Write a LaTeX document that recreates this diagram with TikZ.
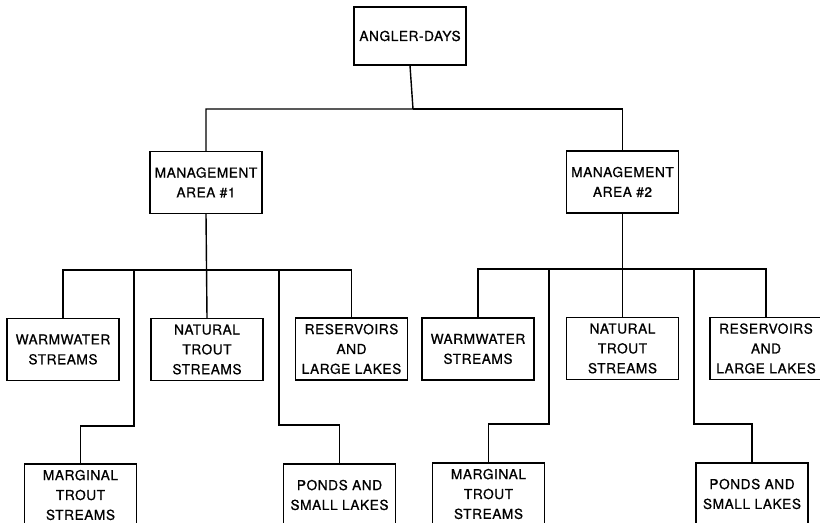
\documentclass[tikz,border=0pt]{standalone}
\usepackage{fontspec}
\setmainfont{TeX Gyre Heros}[LetterSpace=4,FakeBold=0.8]
\usepackage{tikz}

\begin{document}
\begin{tikzpicture}[line width=0.8pt,
    box/.style={draw,line width=0.7pt,align=center,inner sep=0pt,
        minimum width=2.24cm,minimum height=1.24cm,
        font=\fontsize{7.8}{11.3}\selectfont}]
    \useasboundingbox (0,0) rectangle (16.4,-10.46);
    \node[box,minimum height=1.16cm] (days) at (8.2,-0.72) {ANGLER-DAYS};
    \node[box] (ma1) at (4.12,-3.65) {MANAGEMENT\\AREA \#1};
    \node[box] (ma2) at (12.45,-3.64) {MANAGEMENT\\AREA \#2};
    \node[box] (ww1) at (1.26,-6.99) {WARMWATER\\STREAMS};
    \node[box] (nt1) at (4.14,-6.99) {NATURAL\\TROUT\\STREAMS};
    \node[box] (rl1) at (7.03,-6.98) {RESERVOIRS\\AND\\LARGE LAKES};
    \node[box] (mt1) at (1.61,-9.9) {MARGINAL\\TROUT\\STREAMS};
    \node[box] (pl1) at (6.79,-9.9) {PONDS AND\\SMALL LAKES};
    \node[box] (ww2) at (9.56,-6.98) {WARMWATER\\STREAMS};
    \node[box] (nt2) at (12.45,-6.97) {NATURAL\\TROUT\\STREAMS};
    \node[box] (rl2) at (15.32,-6.97) {RESERVOIRS\\AND\\LARGE LAKES};
    \node[box] (mt2) at (9.77,-9.88) {MARGINAL\\TROUT\\STREAMS};
    \node[box] (pl2) at (15.04,-9.88) {PONDS AND\\SMALL LAKES};
    \coordinate (t0) at (8.26,-2.18);
    \coordinate (a1) at (2.68,-5.4);
    \coordinate (a2) at (5.58,-5.4);
    \coordinate (b1) at (10.98,-5.38);
    \coordinate (b2) at (13.88,-5.38);
    \draw (days.south) -- (t0) -| (ma1.north);
    \draw (t0) -| (ma2.north);
    \draw (ma1.south) -- (nt1.north);
    \draw (a1) -| (ww1.north);
    \draw (a2) -| (rl1.north);
    \draw (a1) -- ++(0,-3.12) -| (mt1.north);
    \draw (a2) -- ++(0,-3.1) -| (pl1.north);
    \draw (ma2.south) -- (nt2.north);
    \draw (b1) -| (ww2.north);
    \draw (b2) -| (rl2.north);
    \draw (b1) -- ++(0,-3.1) -| (mt2.north);
    \draw (b2) -- ++(0,-3.1) -| (pl2.north);
    \draw (a1) -- (a2);
    \draw (b1) -- (b2);
\end{tikzpicture}
\end{document}
